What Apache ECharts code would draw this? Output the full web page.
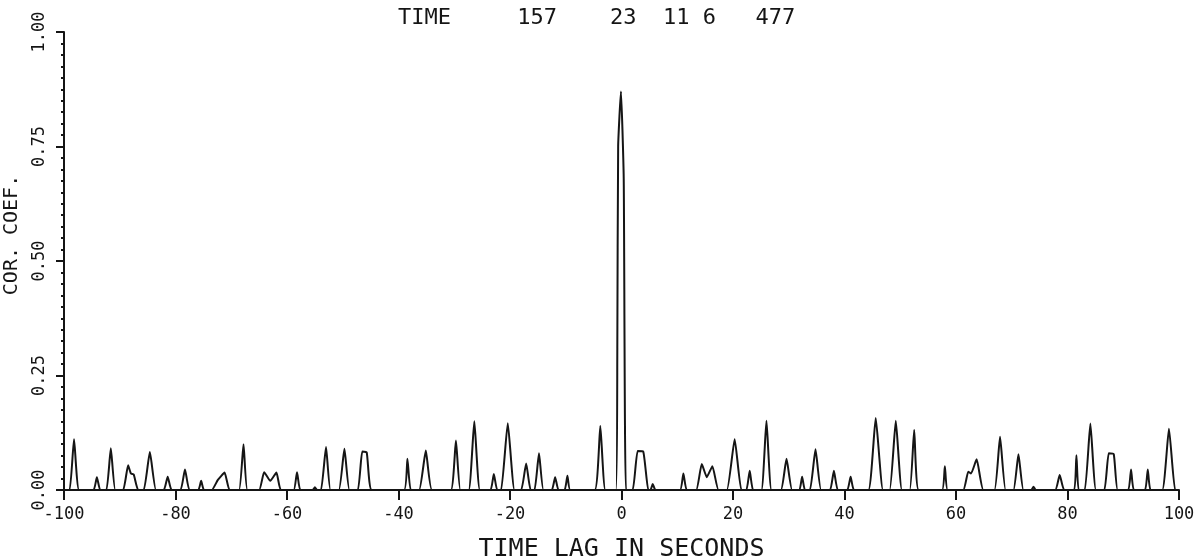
<!DOCTYPE html>
<html>
<head>
<meta charset="utf-8">
<script src="https://cdn.jsdelivr.net/npm/echarts@6/dist/echarts.min.js"></script>
<style>
  html, body { margin: 0; padding: 0; background: #fff; }
  #chart { width: 1204px; height: 556px; }
</style>
</head>
<body>
<div id="chart"></div>
<script>
// Cross-correlation coefficient versus time lag (seconds).
// Each peak is listed as foot, crest(s), foot; the trace returns to zero between peaks.
const titleText = 'TIME     157    23  11 6   477';
const xAxisTitle = 'TIME LAG IN SECONDS';
const yAxisTitle = 'COR. COEF.';
const xTicks = [-100, -80, -60, -40, -20, 0, 20, 40, 60, 80, 100];
const yTicks = [0, 0.25, 0.5, 0.75, 1.0];

const lagSeconds = [
  -100,
  -99.0, -98.2, -97.3,
  -94.7, -94.1, -93.5,
  -92.4, -91.6, -90.8,
  -89.4, -88.5, -88.0, -87.5, -86.7,
  -85.7, -84.6, -83.5,
  -82.1, -81.4, -80.7,
  -79.1, -78.3, -77.5,
  -75.9, -75.4, -74.9,
  -73.5, -72.4, -71.2, -70.3,
  -68.6, -67.8, -67.1,
  -65.0, -64.1, -63.0, -61.9, -61.1,
  -58.8, -58.2, -57.6,
  -55.4, -55.0, -54.6,
  -53.9, -53.0, -52.2,
  -50.7, -49.7, -48.8,
  -47.3, -46.5, -45.7, -44.8,
  -39.0, -38.4, -37.8,
  -36.3, -35.1, -34.0,
  -30.6, -29.7, -28.9,
  -27.4, -26.4, -25.4,
  -23.5, -22.9, -22.3,
  -21.6, -20.4, -19.2,
  -18.0, -17.1, -16.3,
  -15.6, -14.8, -14.0,
  -12.5, -11.9, -11.3,
  -10.2, -9.7, -9.2,
  -4.8, -3.8, -2.9,
  -1.0, -0.75, -0.6, -0.1, 0.4, 0.8,
  2.0, 2.9, 3.9, 4.8,
  5.2, 5.6, 6.1,
  10.5, 11.1, 11.7,
  13.4, 14.4, 15.3, 16.3, 17.4,
  18.9, 20.3, 21.5,
  22.4, 23.0, 23.6,
  25.1, 26.0, 26.9,
  28.6, 29.6, 30.6,
  31.9, 32.4, 32.9,
  33.8, 34.8, 35.8,
  37.4, 38.1, 38.8,
  40.5, 41.1, 41.7,
  44.3, 45.6, 46.9,
  48.1, 49.2, 50.3,
  51.7, 52.5, 53.3,
  57.5, 58.0, 58.5,
  61.3, 62.2, 62.7, 63.7, 64.9,
  66.9, 67.9, 68.9,
  70.3, 71.2, 72.1,
  73.5, 73.9, 74.3,
  77.8, 78.6, 79.4,
  81.2, 81.6, 82.0,
  83.1, 84.1, 85.1,
  86.6, 87.4, 88.3, 89.0,
  90.9, 91.4, 91.9,
  93.9, 94.4, 94.9,
  97.0, 98.2, 99.3,
  100
];

const corrCoef = [
  0,
  0, 0.111, 0,
  0, 0.028, 0,
  0, 0.091, 0,
  0, 0.054, 0.036, 0.034, 0,
  0, 0.083, 0,
  0, 0.029, 0,
  0, 0.045, 0,
  0, 0.020, 0,
  0, 0.022, 0.038, 0,
  0, 0.100, 0,
  0, 0.039, 0.020, 0.038, 0,
  0, 0.039, 0,
  0, 0.006, 0,
  0, 0.094, 0,
  0, 0.090, 0,
  0, 0.084, 0.082, 0,
  0, 0.068, 0,
  0, 0.086, 0,
  0, 0.108, 0,
  0, 0.150, 0,
  0, 0.035, 0,
  0, 0.146, 0,
  0, 0.058, 0,
  0, 0.080, 0,
  0, 0.028, 0,
  0, 0.031, 0,
  0, 0.140, 0,
  0, 0.31, 0.75, 0.87, 0.68, 0,
  0, 0.085, 0.084, 0,
  0, 0.013, 0,
  0, 0.036, 0,
  0, 0.057, 0.028, 0.052, 0,
  0, 0.111, 0,
  0, 0.042, 0,
  0, 0.151, 0,
  0, 0.068, 0,
  0, 0.029, 0,
  0, 0.089, 0,
  0, 0.042, 0,
  0, 0.029, 0,
  0, 0.157, 0,
  0, 0.151, 0,
  0, 0.131, 0,
  0, 0.052, 0,
  0, 0.040, 0.036, 0.067, 0,
  0, 0.116, 0,
  0, 0.078, 0,
  0, 0.007, 0,
  0, 0.033, 0,
  0, 0.076, 0,
  0, 0.145, 0,
  0, 0.080, 0.078, 0,
  0, 0.045, 0,
  0, 0.045, 0,
  0, 0.134, 0,
  0
];

const ink = '#151515';
const mono = '"DejaVu Sans Mono", "Liberation Mono", monospace';

const points = lagSeconds.map((x, i) => [x, corrCoef[i]]);

const chart = echarts.init(document.getElementById('chart'), null, { renderer: 'canvas' });
chart.setOption({
  backgroundColor: '#ffffff',
  animation: false,
  title: {
    text: titleText,
    left: 393,
    top: 2,
    textStyle: { fontFamily: mono, fontSize: 22, fontWeight: 'normal', color: ink }
  },
  grid: { left: 64, right: 25, top: 32, bottom: 66, containLabel: false, outerBoundsMode: 'none' },
  xAxis: {
    type: 'value',
    min: xTicks[0],
    max: xTicks[xTicks.length - 1],
    interval: xTicks[1] - xTicks[0],
    name: xAxisTitle,
    nameLocation: 'middle',
    nameGap: 47,
    nameTextStyle: { fontFamily: mono, fontSize: 25, color: ink },
    splitLine: { show: false },
    axisLine: { onZero: false, lineStyle: { color: ink, width: 2 } },
    axisTick: { show: true, inside: false, length: 10, lineStyle: { color: ink, width: 2 } },
    axisLabel: {
      margin: 16,
      fontFamily: mono,
      fontSize: 17,
      color: ink,
      showMinLabel: true,
      showMaxLabel: true
    }
  },
  yAxis: {
    type: 'value',
    min: yTicks[0],
    max: yTicks[yTicks.length - 1],
    interval: yTicks[1] - yTicks[0],
    name: yAxisTitle,
    nameLocation: 'middle',
    nameRotate: 90,
    nameGap: 42,
    nameTextStyle: { fontFamily: mono, fontSize: 20, color: ink, padding: [0, 0, 0, 52] },
    splitLine: { show: false },
    axisLine: { onZero: false, lineStyle: { color: ink, width: 2 } },
    axisTick: { show: true, inside: false, length: 8, lineStyle: { color: ink, width: 2 } },
    minorTick: { show: true, splitNumber: 10, length: 3, lineStyle: { color: ink, width: 2 } },
    axisLabel: {
      rotate: 90,
      margin: 16,
      fontFamily: mono,
      fontSize: 17,
      color: ink,
      formatter: v => v.toFixed(2)
    }
  },
  series: [{
    type: 'line',
    data: points,
    showSymbol: false,
    smooth: 0.15,
    lineStyle: { color: ink, width: 2 },
    clip: false
  }]
});
</script>
</body>
</html>
